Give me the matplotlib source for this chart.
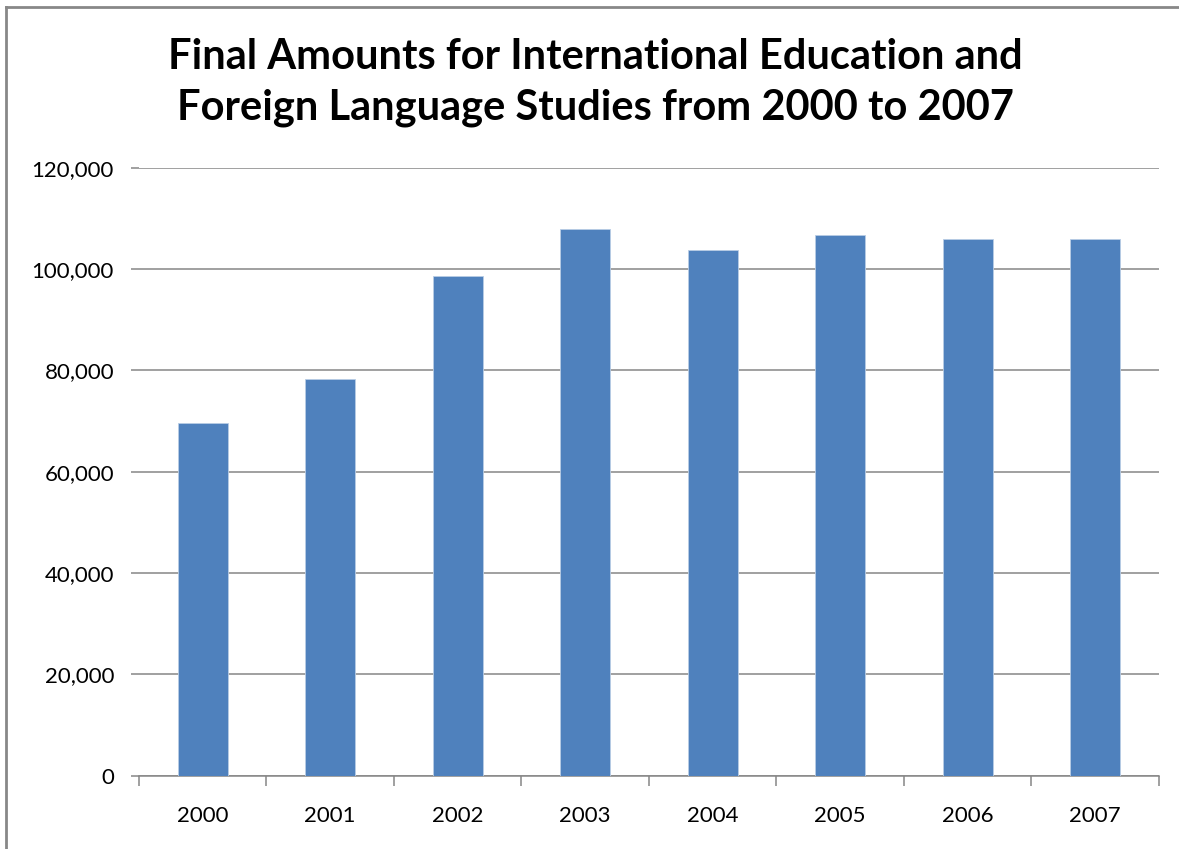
import matplotlib.pyplot as plt
from matplotlib.lines import Line2D
from matplotlib.ticker import FuncFormatter, MultipleLocator

# Final amounts by fiscal year (thousands of dollars)
years = ['2000', '2001', '2002', '2003', '2004', '2005', '2006', '2007']
amounts = [69550, 78200, 98600, 107900, 103700, 106800, 105900, 105900]

bar_color = '#4F81BD'
grid_color = '#868686'

plt.rcParams['font.family'] = ['Lato', 'DejaVu Sans']

fig = plt.figure(figsize=(11.79, 8.49), dpi=100, facecolor='white')
ax = fig.add_axes([0.1179, 0.0863, 0.8651, 0.7162])

x = list(range(len(years)))
ax.bar(x, amounts, width=0.39, color=bar_color, edgecolor='#B9CDE5', linewidth=0.6, zorder=3)

ax.set_xlim(-0.5, len(years) - 0.5)
ax.set_ylim(0, 120000)
ax.yaxis.set_major_locator(MultipleLocator(20000))
ax.yaxis.set_major_formatter(FuncFormatter(lambda v, _: f'{v:,.0f}'))
ax.grid(axis='y', color=grid_color, linewidth=1.1, zorder=0)

# category ticks sit between the bars
ax.set_xticks([i - 0.5 for i in range(len(years) + 1)], minor=False)
ax.set_xticklabels([])
ax.set_xticks(x, minor=True)
ax.set_xticklabels(years, minor=True, fontsize=16)
ax.tick_params(axis='x', which='major', length=7, color=grid_color, width=1.1, direction='out')
ax.tick_params(axis='x', which='minor', length=0, pad=22)
ax.tick_params(axis='y', length=6, color=grid_color, width=1.1, labelsize=16, pad=12)

for side in ['left', 'right', 'top']:
    ax.spines[side].set_visible(False)
ax.spines['bottom'].set_color(grid_color)
ax.spines['bottom'].set_linewidth(1.1)

fig.text(0.505, 0.955, 'Final Amounts for International Education and\nForeign Language Studies from 2000 to 2007',
         ha='center', va='top', fontsize=30, fontweight='bold', linespacing=1.4)

# chart frame
fig.add_artist(Line2D([0.0055, 0.0055], [0, 0.992], color='#888888', linewidth=2, transform=fig.transFigure))
fig.add_artist(Line2D([0.0055, 1], [0.992, 0.992], color='#888888', linewidth=2, transform=fig.transFigure))

fig.savefig('out.png', dpi=100, facecolor='white')
